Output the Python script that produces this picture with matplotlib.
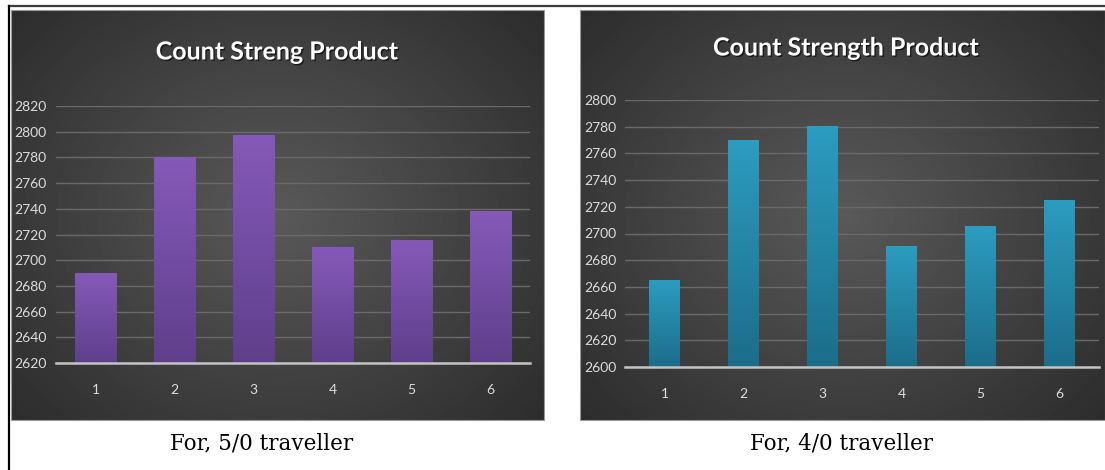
import numpy as np
import matplotlib.pyplot as plt
import matplotlib.patheffects as pe
from matplotlib.colors import to_rgb

# bar values read per traveller setup
categories = ['1', '2', '3', '4', '5', '6']
streng_5_0 = [2690, 2780, 2797, 2710, 2715, 2738]
strength_4_0 = [2665, 2770, 2780, 2690, 2705, 2725]
yticks_5_0 = list(range(2620, 2821, 20))
yticks_4_0 = list(range(2600, 2801, 20))

W, H = 1105, 470
label_font = 'Lato'

fig = plt.figure(figsize=(W / 100, H / 100), dpi=100)
fig.patch.set_facecolor('white')

# background layer in pixel coordinates
bg = fig.add_axes([0, 0, 1, 1], zorder=0)
bg.set_xlim(0, W)
bg.set_ylim(H, 0)
bg.axis('off')


def dark_panel(x0, x1, y0, y1):
    nx, ny = 320, 240
    xx, yy = np.meshgrid(np.linspace(-1, 1, nx), np.linspace(-1, 1, ny))
    r = np.sqrt(xx ** 2 + (yy * 0.9) ** 2)
    shade = np.clip(0.35 - 0.13 * r, 0.13, 0.4)
    bg.imshow(shade, cmap='gray', vmin=0, vmax=1, extent=(x0, x1, y1, y0),
              aspect='auto', interpolation='bilinear', zorder=1)
    bg.plot([x0, x1, x1, x0, x0], [y0, y0, y1, y1, y0], color='#9a9a9a', lw=0.8, zorder=2)


dark_panel(11, 544, 10, 420)
dark_panel(580, 1105, 10, 420)
bg.plot([9, W], [6, 6], color='#3a3a3a', lw=1.6, zorder=3)
bg.plot([9, 9], [6, H], color='black', lw=1.6, zorder=3)


def px_rect(x0, x1, ytop, ybot):
    return [x0 / W, 1 - ybot / H, (x1 - x0) / W, (ybot - ytop) / H]


def draw_chart(rect, values, yticks, top_col, bot_col, bar_w, ypad):
    ax = fig.add_axes(rect, zorder=2)
    ax.set_facecolor('none')
    x = np.arange(1, len(categories) + 1)
    ymin, ymax = yticks[0], yticks[-1]
    bars = ax.bar(x, values, width=bar_w, color=top_col, zorder=3)
    # vertical gradient fill for each bar
    grad = np.linspace(0, 1, 100)[:, None, None]
    img = np.array(to_rgb(top_col)) * (1 - grad) + np.array(to_rgb(bot_col)) * grad
    for b, v in zip(bars, values):
        ax.imshow(img, extent=(b.get_x(), b.get_x() + b.get_width(), ymin, v),
                  aspect='auto', origin='upper', zorder=3.5)
    ax.set_xlim(0.5, len(categories) + 0.5)
    ax.set_ylim(ymin, ymax)
    ax.set_xticks(x)
    ax.set_xticklabels(categories)
    ax.set_yticks(yticks)
    ax.yaxis.grid(True, color='#6a6a6a', lw=1)
    ax.set_axisbelow(True)
    for s in ['top', 'right', 'left']:
        ax.spines[s].set_visible(False)
    ax.spines['bottom'].set_color('#c4c4c4')
    ax.spines['bottom'].set_linewidth(1.8)
    ax.spines['bottom'].set_zorder(4)
    ax.tick_params(axis='both', length=0, colors='#dcdcdc', labelsize=10)
    ax.tick_params(axis='y', pad=ypad)
    ax.tick_params(axis='x', pad=15)
    for lab in ax.get_xticklabels() + ax.get_yticklabels():
        lab.set_family(label_font)
    return ax


draw_chart(px_rect(56, 530, 106, 363), streng_5_0, yticks_5_0,
           '#8559b8', '#5f3f8c', 0.52, 7)
draw_chart(px_rect(625, 1099, 100, 367), strength_4_0, yticks_4_0,
           '#2c9cc0', '#1c6d8a', 0.39, 6)

shadow = [pe.withSimplePatchShadow(offset=(1, -1), shadow_rgbFace='black', alpha=0.6)]
fig.text(277 / W, 1 - 52 / H, 'Count Streng Product', color='white', fontsize=18,
         fontweight='bold', family=label_font, ha='center', va='center', path_effects=shadow)
fig.text(846 / W, 1 - 48 / H, 'Count Strength Product', color='white', fontsize=18,
         fontweight='bold', family=label_font, ha='center', va='center', path_effects=shadow)

fig.text(262 / W, 1 - 443 / H, 'For, 5/0 traveller', color='black', fontsize=15.5,
         family='DejaVu Serif', ha='center', va='center')
fig.text(842 / W, 1 - 443 / H, 'For, 4/0 traveller', color='black', fontsize=15.5,
         family='DejaVu Serif', ha='center', va='center')

fig.savefig('out.png', dpi=100, facecolor='white')
